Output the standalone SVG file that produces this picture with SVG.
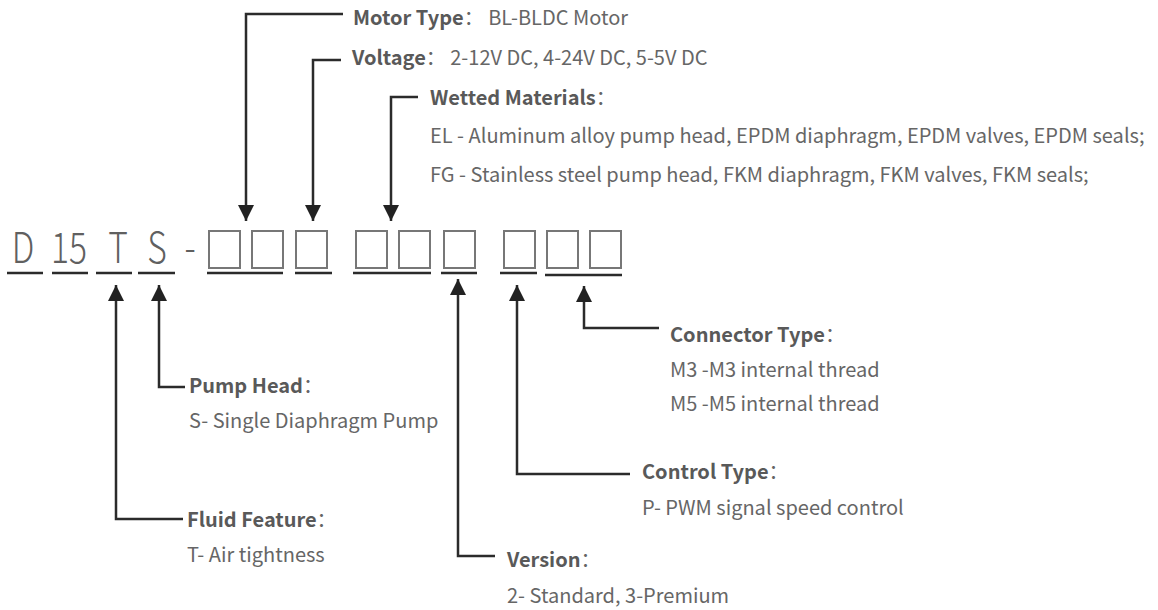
<svg xmlns="http://www.w3.org/2000/svg" width="1158" height="610" viewBox="0 0 1158 610">
<defs>
<style>
.t{font-family:"Noto Sans CJK SC","Source Han Sans SC",sans-serif;font-size:20px;fill:#666;}
.b{font-weight:700;fill:#595959;}
.code{font-family:"Noto Sans CJK SC","Source Han Sans SC",sans-serif;font-size:42px;font-weight:300;fill:#606060;text-anchor:middle;}
.ul{stroke:#2b2b2b;stroke-width:2.5;}
.box{fill:none;stroke:#777;stroke-width:2;}
.c{fill:none;stroke:#2b2b2b;stroke-width:2.5;marker-end:url(#ah);}
</style>
<marker id="ah" viewBox="0 0 16 16" refX="16" refY="8" markerWidth="16" markerHeight="16" markerUnits="userSpaceOnUse" orient="auto">
<path d="M0,0 L16,8 L0,16 z" fill="#222"/>
</marker>
</defs>
<rect width="1158" height="610" fill="#fff"/>

<g id="code">
<text class="code" transform="translate(23,263) scale(0.8,1)">D</text>
<text class="code" transform="translate(69,263) scale(0.8,1)">15</text>
<text class="code" transform="translate(118,263) scale(0.8,1)">T</text>
<text class="code" transform="translate(157,263) scale(0.8,1)">S</text>
<text class="code" transform="translate(190,263) scale(0.8,1)">-</text>
<rect class="box" x="209" y="231" width="31" height="37"/>
<rect class="box" x="252" y="231" width="31" height="37"/>
<rect class="box" x="296" y="231" width="31" height="37"/>
<rect class="box" x="356" y="231" width="31" height="37"/>
<rect class="box" x="399" y="231" width="31" height="37"/>
<rect class="box" x="444" y="231" width="31" height="37"/>
<rect class="box" x="504" y="231" width="31" height="37"/>
<rect class="box" x="547" y="231" width="31" height="37"/>
<rect class="box" x="590" y="231" width="31" height="37"/>
<line class="ul" x1="7" y1="273" x2="43" y2="273"/>
<line class="ul" x1="52" y1="273" x2="88" y2="273"/>
<line class="ul" x1="96" y1="273" x2="132" y2="273"/>
<line class="ul" x1="138" y1="273" x2="175" y2="273"/>
<line class="ul" x1="207" y1="273" x2="283" y2="273"/>
<line class="ul" x1="295" y1="273" x2="332" y2="273"/>
<line class="ul" x1="353" y1="273" x2="431" y2="273"/>
<line class="ul" x1="441" y1="273" x2="477" y2="273"/>
<line class="ul" x1="500" y1="273" x2="537" y2="273"/>
<line class="ul" x1="545" y1="275" x2="622" y2="275"/>
</g>

<g id="connectors">
<path class="c" d="M343,14 H246 V221"/>
<path class="c" d="M341,60 H313 V221"/>
<path class="c" d="M418,97 H391 V221"/>
<path class="c" d="M183,519 H116 V285"/>
<path class="c" d="M185,387 H159 V285"/>
<path class="c" d="M495,556 H458 V279"/>
<path class="c" d="M630,474 H517 V285"/>
<path class="c" d="M659,328 H584 V286"/>
</g>

<g id="motor-type">
<text class="t" x="353" y="25"><tspan class="b">Motor Type</tspan>： BL-BLDC Motor</text>
</g>
<g id="voltage">
<text class="t" x="352" y="65"><tspan class="b">Voltage</tspan>： 2-12V DC, 4-24V DC, 5-5V DC</text>
</g>
<g id="wetted-materials">
<text class="t" x="430" y="105"><tspan class="b">Wetted Materials</tspan>：</text>
<text class="t" x="430" y="143">EL - Aluminum alloy pump head, EPDM diaphragm, EPDM valves, EPDM seals;</text>
<text class="t" x="430" y="182">FG - Stainless steel pump head, FKM diaphragm, FKM valves, FKM seals;</text>
</g>
<g id="pump-head">
<text class="t" x="189" y="393"><tspan class="b">Pump Head</tspan>：</text>
<text class="t" x="189" y="428">S- Single Diaphragm Pump</text>
</g>
<g id="fluid-feature">
<text class="t" x="187" y="527"><tspan class="b">Fluid Feature</tspan>：</text>
<text class="t" x="187" y="562">T- Air tightness</text>
</g>
<g id="version">
<text class="t" x="507" y="567"><tspan class="b">Version</tspan>：</text>
<text class="t" x="507" y="603">2- Standard, 3-Premium</text>
</g>
<g id="control-type">
<text class="t" x="642" y="479"><tspan class="b">Control Type</tspan>：</text>
<text class="t" x="642" y="515">P- PWM signal speed control</text>
</g>
<g id="connector-type">
<text class="t" x="670" y="342"><tspan class="b">Connector Type</tspan>：</text>
<text class="t" x="670" y="377">M3 -M3 internal thread</text>
<text class="t" x="670" y="411">M5 -M5 internal thread</text>
</g>
</svg>
